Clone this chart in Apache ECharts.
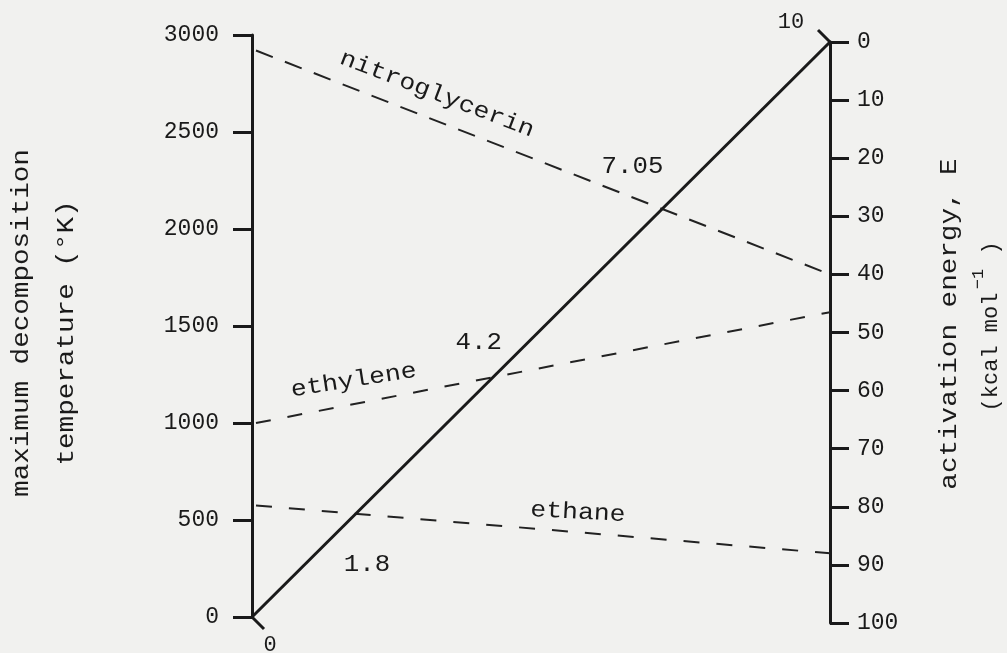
<!DOCTYPE html>
<html><head><meta charset="utf-8">
<script src="https://cdn.jsdelivr.net/npm/echarts@6/dist/echarts.min.js"></script>
<style>html,body{margin:0;padding:0;background:#f1f1ef}#c{width:1007px;height:653px}</style>
</head><body><div id="c"></div>
<script>
// ---- data ----
const tempRange = [0, 3000];          // left scale, maximum decomposition temperature (°K)
const tempStep = 500;
const energyRange = [0, 100];         // right scale, activation energy (kcal/mol)
const energyStep = 10;
const diagRange = [0, 10];            // diagonal scale
const compounds = ['nitroglycerin', 'ethylene', 'ethane'];
const tempValues = [2920, 1000, 575];
const energyValues = [40, 46.5, 88];
const diagValues = [7.05, 4.2, 1.8];
const diagLabels = ['7.05', '4.2', '1.8'];

// ---- layout / style ----
const FONT = 'Liberation Mono';
const INK = '#1a1a1a';
const nameLayout = [
  {f: 0.32, dx: 0, dy: -28, rot: -21, dash: [18, 13]},
  {f: 0.176, dx: 0, dy: -23, rot: 9, dash: [15, 17]},
  {f: 0.564, dx: 0, dy: -20, rot: -3, dash: [16, 17]}
];
const diagLabelOffsets = [[-27, -45], [-16, -33], [11, 51]];

const chart = echarts.init(document.getElementById('c'));
const axisCommon = {
  type: 'value',
  axisLine: {show: true, onZero: false, lineStyle: {color: INK, width: 3}},
  axisTick: {show: true, length: 19, lineStyle: {color: INK, width: 3}},
  splitLine: {show: false},
  axisLabel: {fontFamily: FONT, fontSize: 23, color: INK, formatter: v => String(v)}
};
chart.setOption({
  backgroundColor: '#f1f1ef',
  animation: false,
  grid: [
    {left: 252, right: 177, top: 35, bottom: 36},
    {left: 252, right: 177, top: 42, bottom: 30}
  ],
  xAxis: [
    {type: 'value', gridIndex: 0, min: 0, max: 1, show: false},
    {type: 'value', gridIndex: 1, min: 0, max: 1, show: false}
  ],
  yAxis: [
    Object.assign({}, axisCommon, {gridIndex: 0, position: 'left', min: tempRange[0], max: tempRange[1], interval: tempStep,
      axisLabel: Object.assign({}, axisCommon.axisLabel, {margin: 33})}),
    Object.assign({}, axisCommon, {gridIndex: 1, position: 'right', inverse: true, min: energyRange[0], max: energyRange[1], interval: energyStep,
      axisLabel: Object.assign({}, axisCommon.axisLabel, {margin: 27})})
  ],
  series: [
    {type: 'scatter', xAxisIndex: 0, yAxisIndex: 0, data: []},
    {type: 'scatter', xAxisIndex: 1, yAxisIndex: 1, data: []}
  ]
});

const xL = chart.convertToPixel({xAxisIndex: 0}, 0);
const xR = chart.convertToPixel({xAxisIndex: 1}, 1);
const pL = t => [xL, chart.convertToPixel({yAxisIndex: 0}, t)];
const pR = e => [xR, chart.convertToPixel({yAxisIndex: 1}, e)];
const lerp = (a, b, f) => [a[0] + (b[0] - a[0]) * f, a[1] + (b[1] - a[1]) * f];

const dA = pL(tempRange[0]);
const dB = pR(energyRange[0]);
const dPt = v => lerp(dA, dB, (v - diagRange[0]) / (diagRange[1] - diagRange[0]));
const len = Math.hypot(dB[0] - dA[0], dB[1] - dA[1]);
const u = [(dB[0] - dA[0]) / len, (dB[1] - dA[1]) / len];
const n = [-u[1], u[0]];
const TK = 17;

function txt(text, x, y, opts) {
  opts = opts || {};
  return {
    type: 'text', x: x, y: y,
    rotation: (opts.rot || 0) * Math.PI / 180,
    scaleX: opts.sx || 1, scaleY: opts.sy || 1,
    z: 10,
    style: {
      text: text, fill: INK,
      font: (opts.size || 23) + 'px "' + FONT + '"',
      align: opts.align || 'center', verticalAlign: 'middle',
      textAlign: opts.align || 'center', textVerticalAlign: 'middle'
    }
  };
}

const g = [];
// diagonal scale line
g.push({type: 'line', z: 5, shape: {x1: dA[0], y1: dA[1], x2: dB[0], y2: dB[1]}, style: {stroke: INK, lineWidth: 3}});
g.push({type: 'line', z: 5, shape: {x1: dA[0], y1: dA[1], x2: dA[0] + n[0] * TK, y2: dA[1] + n[1] * TK}, style: {stroke: INK, lineWidth: 3}});
g.push({type: 'line', z: 5, shape: {x1: dB[0], y1: dB[1], x2: dB[0] - n[0] * TK, y2: dB[1] - n[1] * TK}, style: {stroke: INK, lineWidth: 3}});
g.push(txt(String(diagRange[0]), dA[0] + 18, dA[1] + 28, {size: 22}));
g.push(txt(String(diagRange[1]), dB[0] - 39, dB[1] - 20, {size: 22}));

// compound lines (positive rot = counter-clockwise)
compounds.forEach((name, i) => {
  const a = pL(tempValues[i]);
  const b = pR(energyValues[i]);
  const L = nameLayout[i];
  g.push({type: 'line', z: 4, shape: {x1: a[0] + 4, y1: a[1], x2: b[0], y2: b[1]},
    style: {stroke: '#222', lineWidth: 2, lineDash: L.dash}});
  const p = lerp(a, b, L.f);
  g.push(txt(name, p[0] + L.dx, p[1] + L.dy, {rot: L.rot, sx: 1.15}));
});
// diagonal value labels
diagValues.forEach((v, i) => {
  const p = dPt(v);
  g.push(txt(diagLabels[i], p[0] + diagLabelOffsets[i][0], p[1] + diagLabelOffsets[i][1], {sx: 1.12}));
});

// axis titles
g.push(txt('maximum decomposition', 22, 323, {rot: 90, sx: 1.2}));
g.push(txt('temperature (°K)', 67, 333, {rot: 90, sx: 1.2}));
g.push(txt('activation energy, E', 950, 324, {rot: 90, sx: 1.2}));
g.push(txt('(kcal mol', 991, 352, {rot: 90, size: 22, sx: 1.0}));
g.push(txt('−1', 978, 279, {rot: 90, size: 17}));
g.push(txt(')', 991, 248, {rot: 90, size: 22}));

chart.setOption({graphic: {elements: g}});
</script>
</body></html>
